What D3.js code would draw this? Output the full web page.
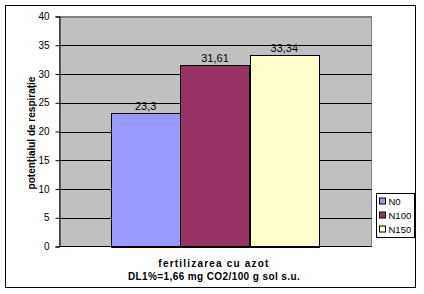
<!DOCTYPE html>
<html lang="ro">
<head>
<meta charset="UTF-8">
<title>potentialul de respiratie</title>
<style>
  body { margin: 0; background: #fff; }
  text { font-family: "Liberation Sans", Arial, sans-serif; fill: #000; }
  .tick text { font-size: 10px; }
  .grid line { stroke: #000; stroke-width: 1px; }
  .title { font-size: 10px; font-weight: bold; letter-spacing: 0.6px; }
</style>
</head>
<body>
<svg></svg>
<script src="https://cdnjs.cloudflare.com/ajax/libs/d3/7.8.5/d3.min.js"></script>
<script>

var categories = ["N0", "N100", "N150"];
var values = [23.3, 31.61, 33.34];
var valueLabels = ["23,3", "31,61", "33,34"];
var colors = ["#9999FF", "#993366", "#FFFFCC"];
var yTicks = [0, 5, 10, 15, 20, 25, 30, 35, 40];

var width = 424, height = 294;
var plot = { left: 59.5, right: 371.5, top: 16.5, bottom: 246.5 };

var svg = d3.select("svg")
  .attr("width", width)
  .attr("height", height);

// outer frame
svg.append("rect")
  .attr("x", 5.5).attr("y", 5.5)
  .attr("width", 410).attr("height", 282)
  .attr("fill", "#fff")
  .attr("stroke", "#000")
  .attr("stroke-width", 1);

var y = d3.scaleLinear().domain([0, 40]).range([plot.bottom, plot.top]);

var x = d3.scaleBand()
  .domain(categories)
  .range([111, 319]);

// plot background
svg.append("rect")
  .attr("x", plot.left).attr("y", plot.top)
  .attr("width", plot.right - plot.left)
  .attr("height", plot.bottom - plot.top)
  .attr("fill", "#C0C0C0")
  .attr("stroke", "#808080");

// gridlines
svg.append("g")
  .attr("class", "grid")
  .selectAll("line")
  .data(yTicks.slice(1))
  .enter().append("line")
    .attr("x1", plot.left).attr("x2", plot.right)
    .attr("y1", function(d) { return Math.round(y(d)) + 0.5; })
    .attr("y2", function(d) { return Math.round(y(d)) + 0.5; })
    .style("stroke", function(d) { return d === 40 ? "#808080" : "#000"; });

// bars
svg.selectAll(".bar")
  .data(values)
  .enter().append("rect")
    .attr("class", "bar")
    .attr("x", function(d, i) { return Math.round(x(categories[i])) + 0.5; })
    .attr("y", function(d) { return Math.round(y(d)) + 0.5; })
    .attr("width", function() { return Math.round(x.bandwidth()); })
    .attr("height", function(d) { return Math.round(plot.bottom - y(d)); })
    .attr("fill", function(d, i) { return colors[i]; })
    .attr("stroke", "#000");

// value labels
svg.selectAll(".vlabel")
  .data(values)
  .enter().append("text")
    .attr("class", "vlabel")
    .attr("x", function(d, i) { return x(categories[i]) + x.bandwidth() / 2; })
    .attr("y", function(d) { return y(d) - 3; })
    .attr("text-anchor", "middle")
    .style("font-size", "11px")
    .text(function(d, i) { return valueLabels[i]; });

// y axis
var yAxis = svg.append("g")
  .attr("transform", "translate(" + plot.left + ",0)")
  .call(d3.axisLeft(y).tickValues(yTicks).tickSize(4).tickPadding(6));
yAxis.select(".domain").attr("stroke", "#000");
yAxis.selectAll(".tick line").attr("stroke", "#000");

// x axis line
svg.append("line")
  .attr("x1", plot.left).attr("x2", plot.right)
  .attr("y1", plot.bottom).attr("y2", plot.bottom)
  .attr("stroke", "#000");

// y axis title
svg.append("text")
  .attr("class", "title")
  .attr("transform", "translate(35,133) rotate(-90)")
  .attr("text-anchor", "middle")
  .style("letter-spacing", "0px")
  .text("potențialul de respirație");

// x axis titles
svg.append("text")
  .attr("class", "title")
  .attr("x", 214).attr("y", 267)
  .attr("text-anchor", "middle")
  .style("letter-spacing", "1.2px")
  .text("fertilizarea cu azot");

svg.append("text")
  .attr("class", "title")
  .attr("x", 214).attr("y", 280)
  .attr("text-anchor", "middle")
  .style("letter-spacing", "0.4px")
  .text("DL1%=1,66 mg CO2/100 g sol s.u.");

// legend
var legend = svg.append("g").attr("transform", "translate(376.5,193.5)");
legend.append("rect")
  .attr("width", 38).attr("height", 44)
  .attr("fill", "#fff").attr("stroke", "#000");

var items = legend.selectAll(".item")
  .data(categories)
  .enter().append("g")
    .attr("transform", function(d, i) { return "translate(3," + (8 + i * 14) + ")"; });

items.append("rect")
  .attr("x", 0).attr("y", -3.5)
  .attr("width", 6).attr("height", 6)
  .attr("fill", function(d, i) { return colors[i]; })
  .attr("stroke", "#000");

items.append("text")
  .attr("x", 9).attr("y", 3.5)
  .style("font-size", "9.5px")
  .text(function(d) { return d; });

</script>
</body>
</html>
